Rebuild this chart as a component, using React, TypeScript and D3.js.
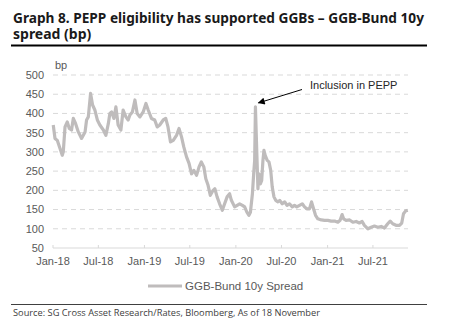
import React from "react";
import * as d3 from "d3";

const dates: string[] = [
  "2018-01-02","2018-01-09","2018-01-18","2018-01-29","2018-02-07","2018-02-11","2018-02-18","2018-02-27",
  "2018-03-07","2018-03-16","2018-03-23","2018-04-01","2018-04-12","2018-04-25","2018-05-09","2018-05-15",
  "2018-05-22","2018-05-31","2018-06-08","2018-06-17","2018-06-27","2018-07-07","2018-07-21","2018-07-31",
  "2018-08-10","2018-08-16","2018-08-23","2018-09-01","2018-09-09","2018-09-18","2018-09-29","2018-10-08",
  "2018-10-19","2018-10-28","2018-11-04","2018-11-14","2018-11-24","2018-12-03","2018-12-14","2018-12-27",
  "2019-01-07","2019-01-16","2019-01-29","2019-02-11","2019-02-21","2019-03-03","2019-03-17","2019-03-27",
  "2019-04-05","2019-04-15","2019-04-26","2019-05-09","2019-05-19","2019-05-29","2019-06-07","2019-06-18",
  "2019-06-28","2019-07-08","2019-07-17","2019-07-28","2019-08-07","2019-08-16","2019-08-26","2019-09-03",
  "2019-09-12","2019-09-21","2019-10-02","2019-10-09","2019-10-18","2019-10-28","2019-11-08","2019-11-17",
  "2019-11-27","2019-12-07","2019-12-14","2019-12-27","2020-01-16","2020-01-27","2020-02-05","2020-02-14",
  "2020-02-22","2020-02-28","2020-03-07","2020-03-12","2020-03-16","2020-03-19","2020-03-25","2020-03-29",
  "2020-04-02","2020-04-08","2020-04-13","2020-04-18","2020-04-22","2020-04-27","2020-05-05","2020-05-12",
  "2020-05-19","2020-05-25","2020-06-01","2020-06-08","2020-06-17","2020-06-24","2020-07-04","2020-07-14",
  "2020-07-23","2020-08-02","2020-08-13","2020-08-22","2020-08-31","2020-09-11","2020-09-22","2020-10-01",
  "2020-10-10","2020-10-21","2020-10-29","2020-11-06","2020-11-14","2020-11-23","2020-12-07","2020-12-20",
  "2021-01-02","2021-01-15","2021-01-29","2021-02-11","2021-02-20","2021-02-28","2021-03-06","2021-03-16",
  "2021-03-30","2021-04-12","2021-04-25","2021-05-08","2021-05-19","2021-05-28","2021-06-11","2021-06-24",
  "2021-07-07","2021-07-20","2021-08-03","2021-08-16","2021-08-29","2021-09-08","2021-09-18","2021-10-01",
  "2021-10-15","2021-10-24","2021-10-31","2021-11-08","2021-11-17",
];

const spread: number[] = [
  370,335,330,309,291,300,365,378,
  361,357,387,374,352,335,352,383,
  391,452,422,409,383,370,357,343,
  374,400,404,387,417,370,357,409,
  391,383,396,404,435,400,391,404,
  426,409,387,383,365,370,383,387,
  365,326,330,343,361,339,313,287,
  270,243,252,239,261,274,261,230,
  213,187,200,204,183,165,148,165,
  183,191,174,157,165,161,157,143,
  135,143,191,243,278,417,287,204,
  243,217,226,278,304,291,278,274,
  252,209,183,174,170,174,165,170,
  161,165,157,161,157,161,165,157,
  152,152,170,152,135,126,123,122,
  122,120,120,117,122,137,126,122,
  123,117,119,115,119,109,100,104,
  107,104,106,102,113,120,113,109,
  109,115,139,146,148,
];

const yTicks: number[] = [50, 100, 150, 200, 250, 300, 350, 400, 450, 500];
const xTickDates: string[] = ["2018-01-01","2018-07-01","2019-01-01","2019-07-01","2020-01-01","2020-07-01","2021-01-01","2021-07-01"];
const xTickLabels: string[] = ["Jan-18","Jul-18","Jan-19","Jul-19","Jan-20","Jul-20","Jan-21","Jul-21"];

const titleLines: string[] = ["Graph 8. PEPP eligibility has supported GGBs – GGB-Bund 10y", "spread (bp)"];
const seriesName = "GGB-Bund 10y Spread";
const annotation = "Inclusion in PEPP";
const source = "Source: SG Cross Asset Research/Rates, Bloomberg, As of 18 November";

export default function App() {
  const W = 451, H = 331;
  const parse = d3.utcParse("%Y-%m-%d");
  const x = d3.scaleUtc()
    .domain([parse("2018-01-01") as Date, parse("2021-11-18") as Date])
    .range([53, 408]);
  const y = d3.scaleLinear().domain([50, 500]).range([248, 75]);
  const pts = dates.map((d, i) => ({ d: parse(d) as Date, v: spread[i] }));
  const line = d3.line<{ d: Date; v: number }>().x(p => x(p.d)).y(p => y(p.v));
  const peakIdx = spread.indexOf(d3.max(spread.slice(80, 100)) as number, 80);
  const peak = pts[peakIdx];
  const px = x(peak.d), py = y(peak.v);
  const font = "'Liberation Sans', Arial, sans-serif";
  const axisColor = "#595959";

  return (
    <svg width={W} height={H} style={{ position: "absolute", left: 0, top: 0, background: "#fff" }}>
      <defs>
        <marker id="ah" viewBox="0 0 10 10" refX="9" refY="5" markerWidth="10" markerHeight="7" markerUnits="userSpaceOnUse" orient="auto">
          <path d="M0,0 L10,5 L0,10 z" fill="#000" />
        </marker>
      </defs>
      {titleLines.map((t, i) => (
        <text key={i} x={13} y={23 + i * 15.5} fontFamily="'Noto Sans', sans-serif" fontWeight={700} fontSize={14} fill="#1a1a1a"
          textLength={i === 0 ? 411 : undefined} lengthAdjust="spacingAndGlyphs">{t}</text>
      ))}
      <line x1={11} x2={427} y1={45.5} y2={45.5} stroke="#000" strokeWidth={2} />

      {yTicks.filter(t => t > 50).map(t => (
        <line key={t} x1={53} x2={408} y1={y(t)} y2={y(t)} stroke="#d9d9d9" strokeWidth={1} strokeDasharray="5,4" />
      ))}
      <line x1={53} x2={408} y1={y(50)} y2={y(50)} stroke="#d9d9d9" strokeWidth={1} />
      {xTickDates.map(t => (
        <line key={t} x1={x(parse(t) as Date)} x2={x(parse(t) as Date)} y1={y(50)} y2={y(50) - 3} stroke="#d9d9d9" />
      ))}
      {yTicks.map(t => (
        <text key={t} x={44} y={y(t)} dy="0.35em" textAnchor="end" fontFamily={font} fontSize={11} fill={axisColor}>{t}</text>
      ))}
      {xTickDates.map((t, i) => (
        <text key={t} x={x(parse(t) as Date)} y={261} dy="0.35em" textAnchor="middle" fontFamily={font} fontSize={11} fill={axisColor}>{xTickLabels[i]}</text>
      ))}
      <text x={55} y={65} dy="0.35em" fontFamily={font} fontSize={11} fill={axisColor}>bp</text>

      <path d={line(pts) || ""} fill="none" stroke="#bfbcbc" strokeWidth={3.2} strokeLinejoin="round" />

      <line x1={302} y1={89.5} x2={px + 3} y2={py - 4} stroke="#000" strokeWidth={1} markerEnd="url(#ah)" />
      <text x={310} y={85} dy="0.35em" fontFamily={font} fontSize={11} fill="#262626">{annotation}</text>

      <line x1={148} x2={182} y1={286} y2={286} stroke="#bfbcbc" strokeWidth={3} />
      <text x={185} y={286} dy="0.35em" fontFamily={font} fontSize={11.5} fill={axisColor}>{seriesName}</text>

      <line x1={11} x2={427} y1={304.5} y2={304.5} stroke="#404040" strokeWidth={1} />
      <text x={13} y={313} dy="0.35em" fontFamily="'Open Sans', sans-serif" fontSize={9} fill="#404040"
        textLength={307} lengthAdjust="spacingAndGlyphs">{source}</text>
    </svg>
  );
}
